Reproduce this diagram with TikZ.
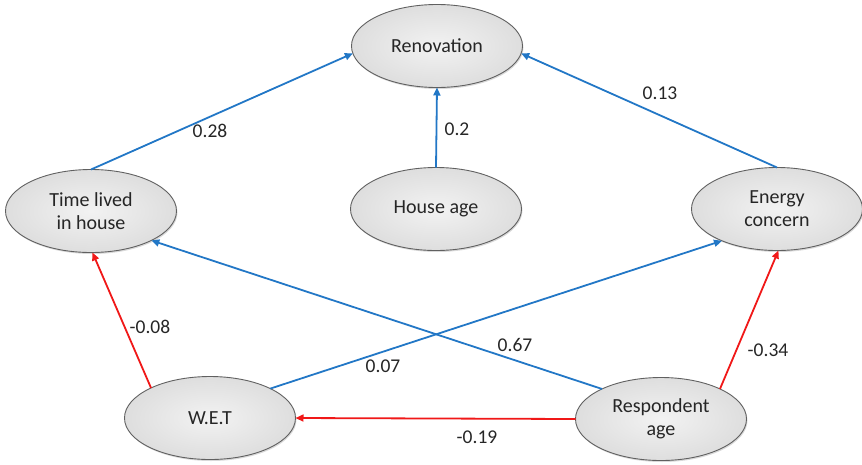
\documentclass[tikz,border=0pt]{standalone}
\usepackage{fontspec}
\setmainfont{Carlito}
\usetikzlibrary{shapes.geometric,arrows.meta,shadows}
\definecolor{pathblue}{HTML}{2277C6}
\definecolor{pathred}{HTML}{F01818}
\definecolor{txt}{HTML}{262626}
\tikzset{
  factor/.style={ellipse, minimum width=171pt, minimum height=83pt, inner sep=0pt, outer sep=0pt,
    draw=gray!75!black, line width=0.9pt, inner color=gray!10, outer color=gray!26,
    drop shadow={shadow xshift=1pt, shadow yshift=-1.5pt, opacity=0.3},
    font=\fontsize{20}{23}\selectfont, text=txt, align=center},
  pospath/.style={draw=pathblue, line width=1.8pt, -{Triangle[length=8pt,width=7pt]}},
  negpath/.style={draw=pathred, line width=1.8pt, -{Triangle[length=8pt,width=7pt]}},
  coef/.style={font=\fontsize{19.5}{22}\selectfont, text=txt}
}
\begin{document}
\begin{tikzpicture}[x=1pt,y=-1pt]
\useasboundingbox (0,0) rectangle (862,464);

% latent factors
\node[factor] (ren) at (437,46) {Renovation};
\node[factor] (tl)  at (91,211) {Time lived\\in house};
\node[factor] (ha)  at (436,209) {House age};
\node[factor] (ec)  at (777,209) {Energy\\concern};
\node[factor] (wet) at (210,418) {W.E.T};
\node[factor] (ra)  at (661,419) {Respondent\\age};

% positive paths
\draw[pospath] (tl.north) -- (ren.185);
\draw[pospath] (ha.north) -- (ren.south);
\draw[pospath] (ec.north) -- (ren.-5);
\draw[pospath] (ra.153) -- (tl.-26);
\draw[pospath] (wet.26) -- (ec.210);

% negative paths
\draw[negpath] (wet.153) -- (tl.-88);
\draw[negpath] (ra.27) -- (ec.-88);
\draw[negpath] (ra.west) -- (wet.east);

% path coefficients
\node[coef] (c1) at (210,131) {0.28};
\node[coef] (c2) at (457,129) {0.2};
\node[coef] (c3) at (660,93)  {0.13};
\node[coef] (c4) at (515,345) {0.67};
\node[coef] (c5) at (383,366) {0.07};
\node[coef] (c6) at (150,327) {-0.08};
\node[coef] (c7) at (768,350) {-0.34};
\node[coef] (c8) at (477,437) {-0.19};
\end{tikzpicture}
\end{document}
